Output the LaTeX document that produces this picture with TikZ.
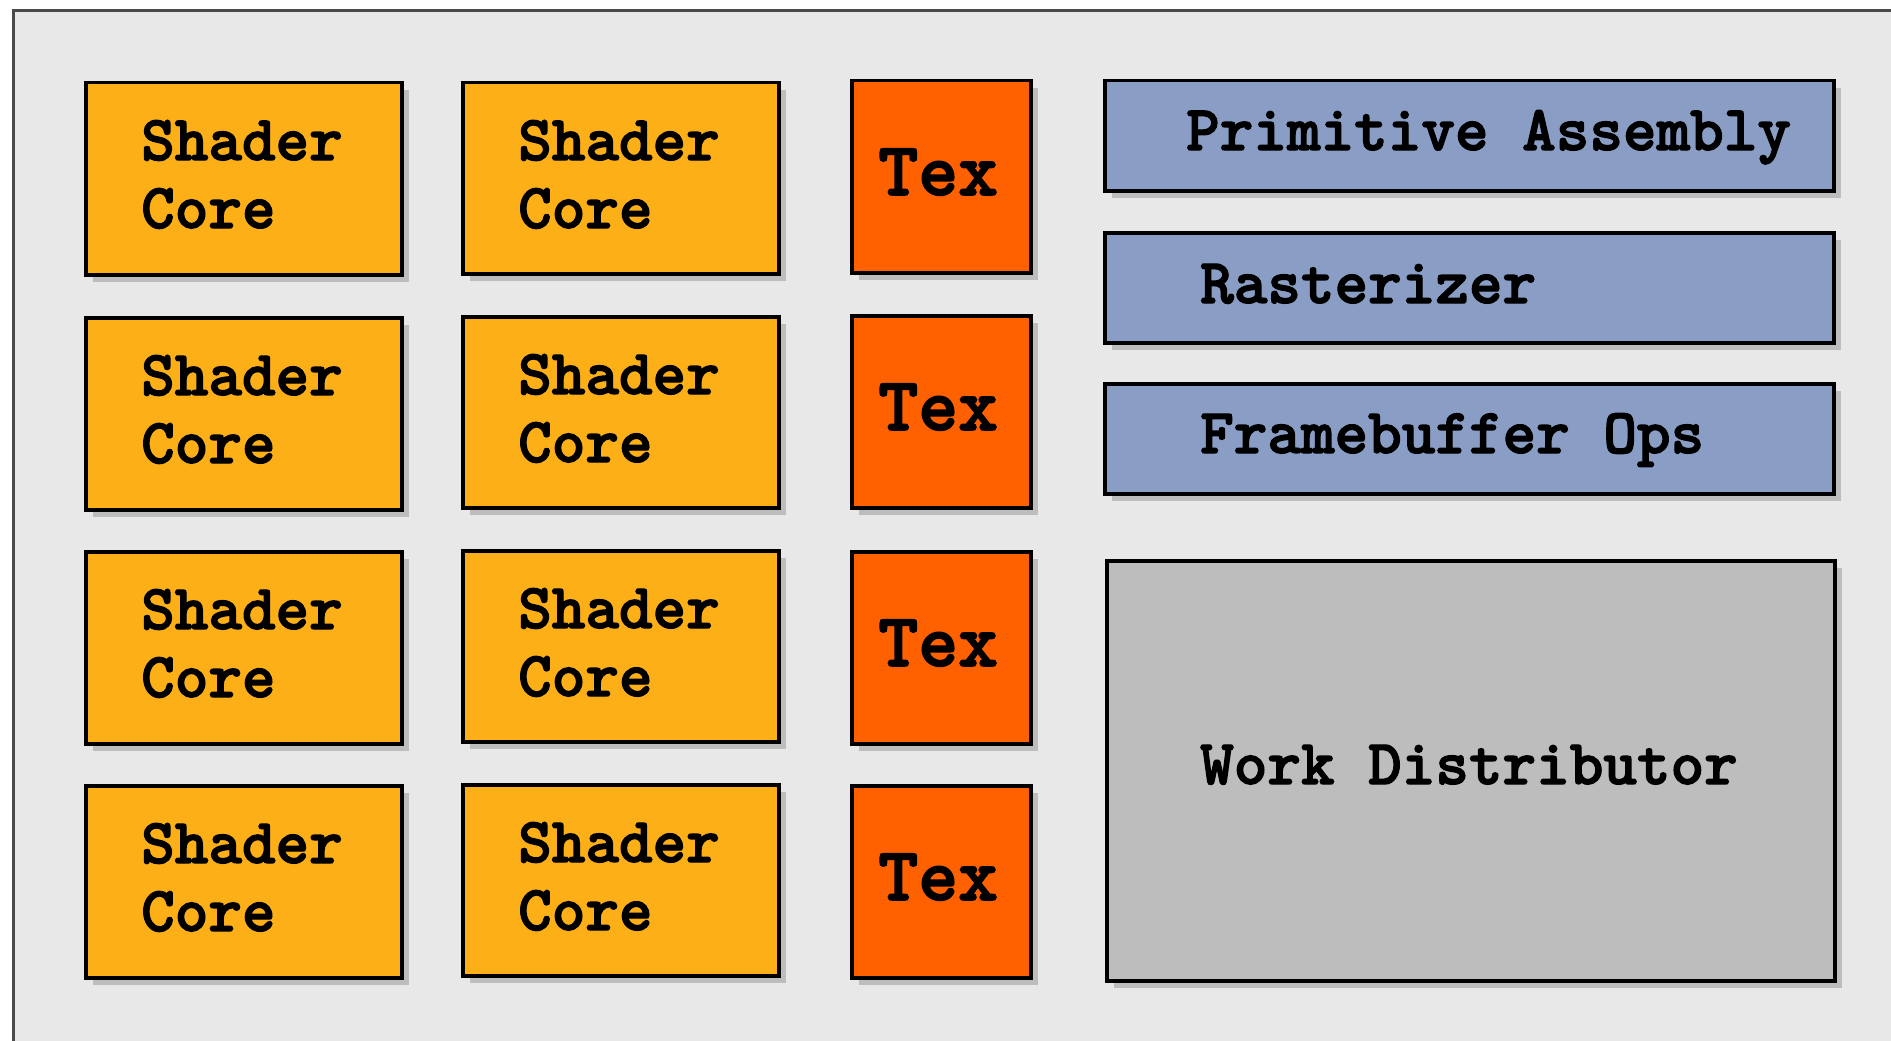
\documentclass[tikz,border=0pt]{standalone}
\usepackage{fontspec}
\usetikzlibrary{shadows}

% heavy slab-serif typewriter face for all labels
\newfontfamily\labelmono{lmmonolt10-bold.otf}[FakeBold=2]

\definecolor{pagebg}{HTML}{E8E8E8}
\definecolor{framegray}{HTML}{4A4A4A}
\definecolor{coreorange}{HTML}{FDAF17}
\definecolor{texorange}{HTML}{FF6000}
\definecolor{fixedblue}{HTML}{8A9DC4}
\definecolor{distgray}{HTML}{BDBDBD}
\definecolor{shadowgray}{HTML}{BDBDBD}

\tikzset{
  unit/.style={rectangle, draw=black, line width=3.5pt, inner sep=0pt,
    anchor=north west,
    drop shadow={shadow xshift=7pt, shadow yshift=-7pt, fill=shadowgray, opacity=1}},
  corebox/.style={unit, fill=coreorange, minimum width=316pt, minimum height=192pt},
  texbox/.style={unit, fill=texorange, minimum width=179pt, minimum height=192pt},
  stagebox/.style={unit, fill=fixedblue, minimum width=729pt, minimum height=110pt},
  distbox/.style={unit, fill=distgray, minimum width=728pt, minimum height=420pt},
  lbl/.style={inner sep=0pt, text=black, align=left,
    font={\fontsize{64}{68}\selectfont\labelmono}},
  texlbl/.style={inner sep=0pt, text=black,
    font={\fontsize{76}{80}\selectfont\labelmono}}
}

\begin{document}
\begin{tikzpicture}[x=1pt, y=-1pt]
\useasboundingbox (0,0) rectangle (1891,1041);

% chip outline, running off the right and bottom edges
\begin{scope}
  \clip (0,0) rectangle (1891,1041);
  \fill[white] (0,0) rectangle (1891,1041);
  \draw[framegray, line width=3pt, fill=pagebg] (13.5,10.5) rectangle (1930,1080);
\end{scope}

% shader cores, first column (base anchor = baseline of the last line)
\foreach \t/\r in {81/1, 316/2, 550/3, 784/4} {
  \node[corebox] (ca\r) at (84,\t) {};
  \node[lbl, anchor=base west] (ca\r l) at ([shift={(57,147)}]ca\r.north west) {Shader\\Core};
}

% shader cores, second column
\foreach \t/\r in {81/1, 315/2, 549/3, 783/4} {
  \node[corebox, minimum height=191pt] (cb\r) at (461,\t) {};
  \node[lbl, anchor=base west] (cb\r l) at ([shift={(57,147)}]cb\r.north west) {Shader\\Core};
}

% texture units
\foreach \t/\r in {79/1, 314/2, 550/3, 784/4} {
  \node[texbox] (tx\r) at (850,\t) {};
  \node[texlbl, anchor=base] (tx\r l) at ([shift={(-3,116)}]tx\r.north) {Tex};
}

% fixed-function stages
\node[stagebox] (pa) at (1103,79) {};
\node[lbl, anchor=base west] (pal) at ([shift={(83,71)}]pa.north west) {Primitive Assembly};

\node[stagebox] (rast) at (1103,231) {};
\node[lbl, anchor=base west] (rastl) at ([shift={(97,72)}]rast.north west) {Rasterizer};

\node[stagebox] (fbo) at (1103,382) {};
\node[lbl, anchor=base west] (fbol) at ([shift={(97,71)}]fbo.north west) {Framebuffer Ops};

% work distributor
\node[distbox] (wd) at (1105,559) {};
\node[lbl, anchor=base west] (wdl) at ([shift={(95,225)}]wd.north west) {Work Distributor};

\end{tikzpicture}
\end{document}
